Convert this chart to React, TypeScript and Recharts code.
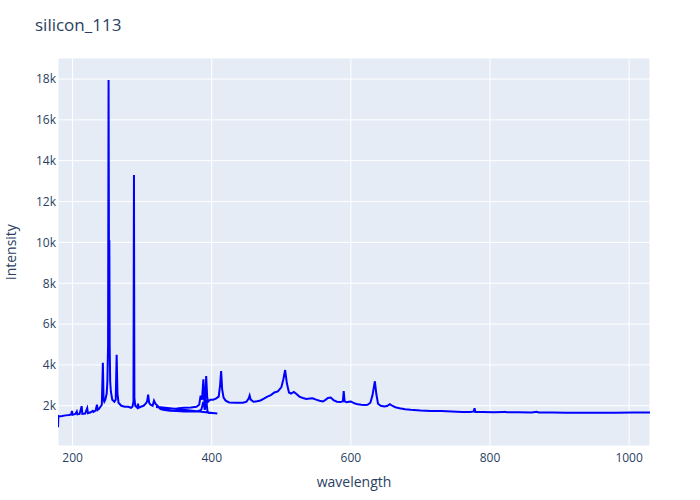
import { CartesianGrid, Line, LineChart, XAxis, YAxis } from "recharts";

// first channel: 179 -> 408 nm
const wlA = [
  179, 179.5, 181, 185, 190, 195, 198, 199, 200, 204, 206, 207, 210, 213, 214,
  218, 221, 222, 226, 229, 230, 233, 235, 236, 238, 240, 242, 243.5, 244.5,
  245.5, 247, 249, 250, 251, 251.7, 252.3, 252.8, 253.3, 254, 255, 257, 260,
  262, 263.3, 264.5, 266, 270, 275, 280, 284, 286, 287.5, 288.2, 288.8, 290,
  293, 294, 295, 298, 302, 305, 307, 308.6, 310, 312, 315, 317, 319, 322, 326,
  330, 340, 350, 360, 370, 380, 385, 388, 390, 392, 394, 396, 400, 405, 408,
];
const intA = [
  950, 1500, 1480, 1500, 1530, 1550, 1580, 1750, 1560, 1600, 1720, 1580, 1600,
  1980, 1600, 1620, 1880, 1640, 1680, 1750, 1700, 1760, 2050, 1800, 1850, 1950,
  2050, 4100, 2300, 2200, 2300, 2600, 3200, 5000, 17950, 9000, 10100, 4900,
  3200, 2700, 2300, 2200, 2300, 4500, 2600, 2150, 2000, 1950, 1950, 1900, 1950,
  2200, 13300, 2400, 2000, 1900, 2100, 1900, 1950, 2000, 2100, 2200, 2550,
  2150, 2050, 2000, 2250, 2100, 2000, 1850, 1800, 1760, 1740, 1720, 1720, 1730,
  1800, 2200, 1800, 2300, 1700, 1650, 1640, 1630, 1620,
];

// second channel: 320 -> 1030 nm
const wlB = [
  320, 325, 330, 340, 350, 360, 370, 378, 382, 384, 386, 388, 389, 390.5, 392,
  393.5, 395, 398, 402, 406, 410, 412, 413.5, 415, 417, 420, 425, 435, 445, 450,
  453, 454.5, 456, 460, 465, 470, 475, 480, 485, 490, 495, 500, 503, 505.5, 508,
  511, 514, 518, 521, 526, 531, 536, 541, 545, 550, 555, 560, 564, 567, 571,
  575, 580, 585, 588.5, 589.7, 591, 594, 597, 600, 605, 610, 615, 620, 624, 628,
  631, 634.5, 636.5, 639, 643, 648, 652, 656, 660, 664, 670, 678, 686, 700, 715,
  730, 745, 760, 772, 776.5, 777.8, 779, 790, 805, 820, 822, 824, 840, 860, 867,
  870, 890, 910, 930, 955, 980, 1005, 1030,
];
const intB = [
  1950, 1900, 1880, 1860, 1870, 1900, 1920, 1950, 2050, 2500, 2300, 3300, 2300,
  2200, 3450, 2400, 2200, 2300, 2300, 2350, 2450, 3000, 3700, 2800, 2400, 2250,
  2160, 2150, 2150, 2200, 2350, 2500, 2300, 2200, 2220, 2260, 2350, 2450, 2520,
  2650, 2700, 2900, 3300, 3750, 3100, 2650, 2600, 2680, 2600, 2450, 2380, 2330,
  2360, 2370, 2300, 2250, 2210, 2300, 2380, 2400, 2280, 2200, 2180, 2220, 2720,
  2220, 2170, 2200, 2210, 2120, 2070, 2050, 2040, 2050, 2150, 2500, 3200, 2600,
  2100, 2000, 1960, 1990, 2080, 1990, 1930, 1880, 1830, 1800, 1770, 1750, 1740,
  1720, 1700, 1690, 1720, 1880, 1700, 1690, 1680, 1690, 1710, 1680, 1680, 1670,
  1710, 1675, 1665, 1660, 1660, 1660, 1660, 1665, 1670,
];

const xTicks = [200, 400, 600, 800, 1000];
const yTicks = [2000, 4000, 6000, 8000, 10000, 12000, 14000, 16000, 18000];

const spectrum = wlA
  .map((w, i) => ({ w, v: intA[i] }))
  .concat(wlB.map((w, i) => ({ w, v: intB[i] })));

const font = '"Open Sans", verdana, arial, sans-serif';
const tickStyle = { fontFamily: font, fontSize: 12, fill: "#2a3f5f" };

export default function App() {
  return (
    <div
      style={{
        position: "absolute",
        left: 0,
        top: 0,
        width: 700,
        height: 500,
        background: "#fff",
      }}
    >
      <LineChart
        width={700}
        height={500}
        data={spectrum}
        margin={{ top: 58, right: 50, bottom: 0, left: 0 }}
      >
        <CartesianGrid fill="#E5ECF6" stroke="#fff" strokeWidth={1} />
        <XAxis
          dataKey="w"
          type="number"
          domain={[179, 1030]}
          allowDataOverflow
          ticks={xTicks}
          height={54}
          axisLine={false}
          tickLine={false}
          tickSize={0}
          tickMargin={7}
          tick={tickStyle}
        />
        <YAxis
          type="number"
          domain={[30, 19030]}
          allowDataOverflow
          ticks={yTicks}
          width={58}
          axisLine={false}
          tickLine={false}
          tickSize={0}
          tickMargin={2}
          tick={tickStyle}
          tickFormatter={(v: number) => `${v / 1000}k`}
        />
        <Line
          type="linear"
          dataKey="v"
          stroke="#0000ff"
          strokeWidth={2}
          dot={false}
          isAnimationActive={false}
        />
      </LineChart>
      <svg
        width={700}
        height={500}
        style={{ position: "absolute", left: 0, top: 0, pointerEvents: "none" }}
      >
        <text x={35} y={31} fontFamily={font} fontSize={17} fill="#2a3f5f">
          silicon_113
        </text>
        <text
          x={354}
          y={487}
          textAnchor="middle"
          fontFamily={font}
          fontSize={14}
          fill="#2a3f5f"
        >
          wavelength
        </text>
        <text
          x={16}
          y={252}
          textAnchor="middle"
          transform="rotate(-90 16 252)"
          fontFamily={font}
          fontSize={14}
          fill="#2a3f5f"
        >
          intensity
        </text>
      </svg>
    </div>
  );
}
